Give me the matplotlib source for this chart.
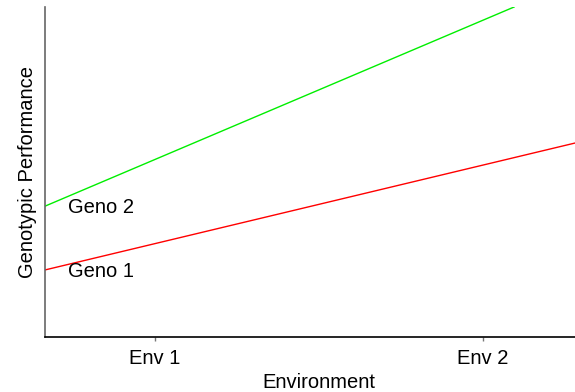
import matplotlib
matplotlib.use("Agg")
import matplotlib.pyplot as plt

plt.rcParams['font.family'] = ['Liberation Sans', 'DejaVu Sans']

environments = ["Env 1", "Env 2"]
env_pos = [1, 2]
geno_names = ["Geno 1", "Geno 2"]
geno1 = [2.83, 5.21]
geno2 = [5.38, 9.60]
colors = ["#ff0000", "#00ee00"]

FS = 14.5

fig = plt.figure(figsize=(5.75, 3.92), dpi=100)
ax = fig.add_axes([45/575, 1 - 337/392, 530/575, 330/392])
ax.set_xlim(1 - 110/328, 2 + 92/328)
ax.set_ylim(0, 10)

for vals, c in zip([geno1, geno2], colors):
    ax.axline((env_pos[0], vals[0]), (env_pos[1], vals[1]), color=c, lw=1)

x0 = ax.get_xlim()[0]
for name, vals in zip(geno_names, [geno1, geno2]):
    slope = (vals[1] - vals[0]) / (env_pos[1] - env_pos[0])
    yl = vals[0] + slope * (x0 - env_pos[0]) - 0.05
    ax.text(1 - 87/328, yl, name, fontsize=FS, va='center', ha='left')

ax.set_xticks(env_pos)
ax.set_xticklabels(environments, fontsize=FS)
ax.set_yticks([])
ax.tick_params(axis='x', length=3, width=1, color='#777777', pad=6)
ax.spines['top'].set_visible(False)
ax.spines['right'].set_visible(False)
ax.spines['left'].set_color('#666666')
ax.spines['left'].set_linewidth(1.2)
ax.spines['bottom'].set_color('black')
ax.spines['bottom'].set_linewidth(1.2)
ax.set_xlabel("Environment", fontsize=FS)
ax.set_ylabel("Genotypic Performance", fontsize=FS)
ax.xaxis.set_label_coords((319 - 45) / 530, -(373 - 337) / 330)
ax.yaxis.set_label_coords(-(45 - 37) / 530, 0.5)

fig.savefig("out.png", dpi=100)
